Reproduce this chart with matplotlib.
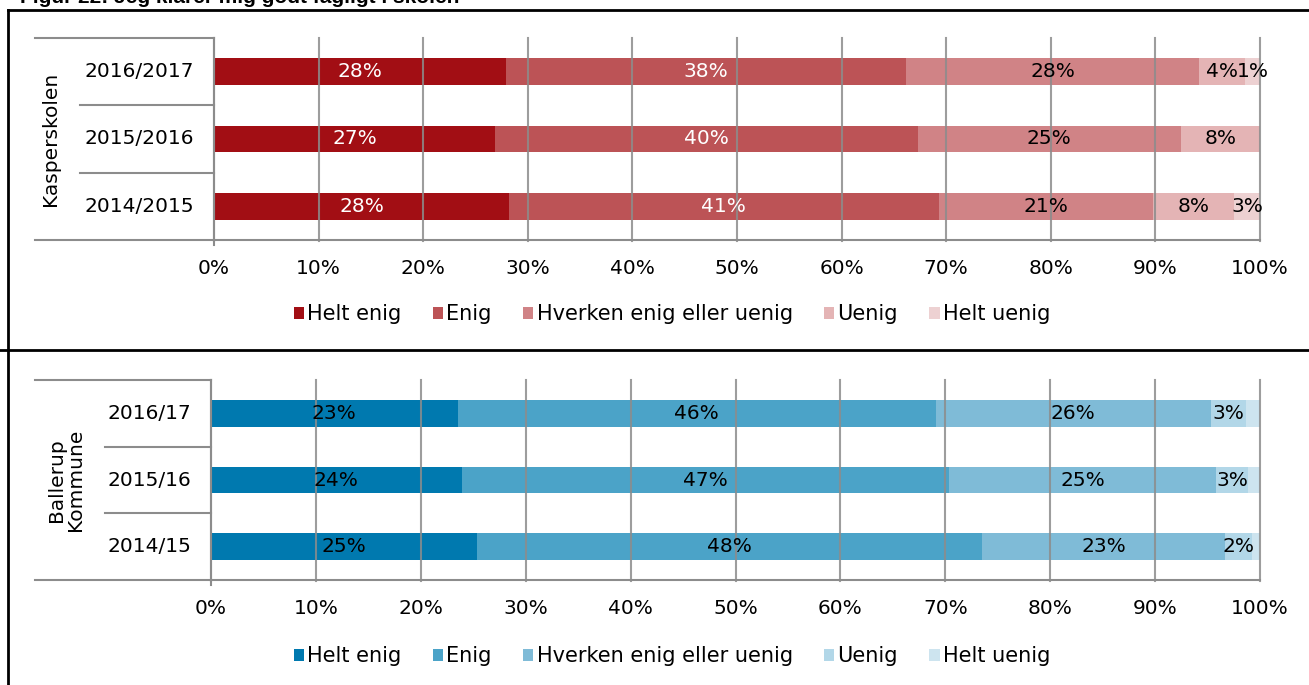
import matplotlib
matplotlib.use("Agg")
import matplotlib.pyplot as plt
from matplotlib.lines import Line2D
from matplotlib.patches import Patch
import numpy as np

plt.rcParams['font.family'] = ['DejaVu Sans']

title = "Figur 22: Jeg klarer mig godt fagligt i skolen"
series = ["Helt enig", "Enig", "Hverken enig eller uenig", "Uenig", "Helt uenig"]

top_group = "Kasperskolen"
top_years = ["2014/2015", "2015/2016", "2016/2017"]
top_vals = [
    [28.2, 41.1, 20.5, 7.7, 2.5],
    [26.9, 40.4, 25.1, 7.6, 0.0],
    [27.9, 38.3, 28.0, 4.4, 1.4],
]
top_labels = [
    ["28%", "41%", "21%", "8%", "3%"],
    ["27%", "40%", "25%", "8%", ""],
    ["28%", "38%", "28%", "4%", "1%"],
]
top_colors = ["#A20E14", "#BC5356", "#D08386", "#E4B4B5", "#EDD1D2"]
top_text_colors = ["white", "white", "black", "black", "black"]

bot_group = "Ballerup\nKommune"
bot_years = ["2014/15", "2015/16", "2016/17"]
bot_vals = [
    [25.4, 48.1, 23.2, 2.5, 0.8],
    [23.9, 46.5, 25.4, 3.1, 1.1],
    [23.5, 45.6, 26.2, 3.4, 1.3],
]
bot_labels = [
    ["25%", "48%", "23%", "2%", ""],
    ["24%", "47%", "25%", "3%", ""],
    ["23%", "46%", "26%", "3%", ""],
]
bot_colors = ["#0079AF", "#4BA3C8", "#7FBBD7", "#B2D7E8", "#CDE4EF"]
bot_text_colors = ["black", "black", "black", "black", "black"]

ticks = np.arange(0, 101, 10)
tick_labels = [f"{t}%" for t in ticks]

W, H = 1309, 685
fig = plt.figure(figsize=(W / 100, H / 100), dpi=100)

def fx(px):
    return px / W

def fy(py):
    return 1 - py / H

FS = 14.5
LFS = 15
GRID = "#8C8C8C"


def panel(x0, x1, ytop, ybot, years, vals, labels, colors, tcolors, group, group_x,
          divider_x0, leg_y):
    ax = fig.add_axes([fx(x0), fy(ybot), fx(x1) - fx(x0), fy(ytop) - fy(ybot)])
    ax.set_xlim(0, 100)
    ax.set_ylim(-0.5, 2.5)
    y = np.arange(len(years))
    vals = np.array(vals)
    left = np.zeros(len(years))
    for j in range(vals.shape[1]):
        ax.barh(y, vals[:, j], left=left, height=0.4, color=colors[j], zorder=1)
        for i in range(len(years)):
            if labels[i][j]:
                ax.text(left[i] + vals[i, j] / 2, y[i], labels[i][j], ha="center",
                        va="center", fontsize=FS, color=tcolors[j], zorder=3)
        left += vals[:, j]
    for t in ticks:
        ax.plot([t, t], [-0.5 - 0.02, 2.5], color=GRID, lw=1.5, alpha=0.85,
                zorder=2, clip_on=False)
    ax.set_xticks(ticks)
    ax.set_xticklabels(tick_labels, fontsize=FS)
    ax.tick_params(axis="x", length=0, pad=14)
    ax.set_yticks([])
    for s in ["top", "right", "left", "bottom"]:
        ax.spines[s].set_visible(False)
    # category table
    for i, yr in enumerate(years):
        fig.text(fx(x0) - fx(20), fy(ytop + (ybot - ytop) * (2.5 - i) / 3), yr,
                 ha="right", va="center", fontsize=FS)
    lc = "#8C8C8C"
    fig.add_artist(Line2D([fx(35), fx(x0)], [fy(ytop), fy(ytop)], color=lc, lw=1.5))
    fig.add_artist(Line2D([fx(35), fx(x1)], [fy(ybot), fy(ybot)], color=lc, lw=1.5))
    fig.add_artist(Line2D([fx(x0), fx(x0)], [fy(ytop), fy(ybot + 5)], color=lc, lw=1.5))
    for k in (1, 2):
        yy = ytop + (ybot - ytop) * k / 3
        fig.add_artist(Line2D([fx(divider_x0), fx(x0)], [fy(yy), fy(yy)], color=lc, lw=1.5))
    fig.text(fx(group_x), fy((ytop + ybot) / 2), group, rotation=90, ha="center",
             va="center", fontsize=FS, linespacing=1.0)
    handles = [Patch(facecolor=c, edgecolor="none") for c in colors]
    fig.legend(handles, series, loc="center", bbox_to_anchor=(fx(672), fy(leg_y)),
               ncol=5, frameon=False, fontsize=LFS, handlelength=0.5, handleheight=0.5,
               handletextpad=0.15, columnspacing=1.5)
    return ax


panel(214, 1260, 38, 240, top_years, top_vals, top_labels, top_colors, top_text_colors,
      top_group, 50, 80, 314)
panel(211, 1260, 380, 580, bot_years, bot_vals, bot_labels, bot_colors, bot_text_colors,
      bot_group, 66, 105, 656)

# frame lines
fig.add_artist(Line2D([fx(8), fx(8)], [fy(10), 0], color="black", lw=2))
fig.add_artist(Line2D([fx(8), 1], [fy(10), fy(10)], color="black", lw=2))
fig.add_artist(Line2D([0, 1], [fy(350), fy(350)], color="black", lw=2))

fig.text(fx(20), fy(3), title, ha="left", va="baseline", fontsize=15, fontweight="bold",
         family=["Liberation Sans", "DejaVu Sans"])

fig.savefig("out.png", dpi=100)
